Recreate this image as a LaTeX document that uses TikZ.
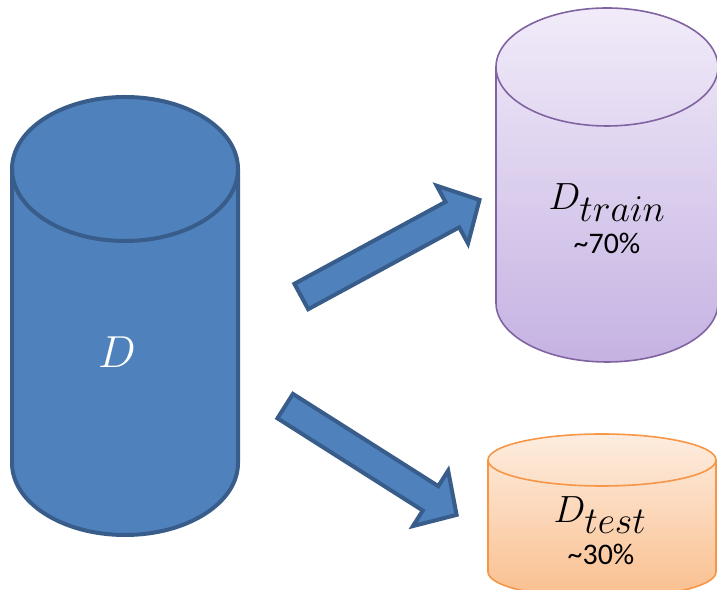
\RequirePackage{fix-cm}
\documentclass[tikz,border=0pt]{standalone}
\usepackage{fontspec}
\newfontfamily\calib{Carlito}
\usetikzlibrary{calc}

\definecolor{dblue}{HTML}{4F81BD}
\definecolor{dblueline}{HTML}{385D8A}
\definecolor{trline}{HTML}{8064A2}
\definecolor{trtop}{HTML}{F1EBF9}
\definecolor{trbot}{HTML}{C5B2E2}
\definecolor{teline}{HTML}{F79646}
\definecolor{tetop}{HTML}{FDEDE0}
\definecolor{tebot}{HTML}{FABF8E}

% cylinder: #1 fill options, #2 line options, #3 centre x, #4 top y, #5 bottom y, #6 x radius, #7 y radius
\newcommand\drawcyl[7]{%
  \path[#1] (#3-#6,#4) -- (#3-#6,#5)
     arc[start angle=180,end angle=360,x radius=#6,y radius=#7] -- (#3+#6,#4)
     arc[start angle=0,end angle=180,x radius=#6,y radius=#7] -- cycle;
  \draw[#2] (#3-#6,#4) -- (#3-#6,#5)
     arc[start angle=180,end angle=360,x radius=#6,y radius=#7] -- (#3+#6,#4);
  \draw[#2] (#3,#4) ellipse[x radius=#6,y radius=#7];}

% block arrow from tail coordinate #1 to tip coordinate #2
\newcommand\blockarrow[2]{%
  \draw[blockarrow] let \p1=(#1), \p2=(#2),
      \n1={atan2(\y2-\y1,\x2-\x1)},
      \n2={veclen(\x2-\x1,\y2-\y1)-31pt} in
    ($(#1)+(\n1+90:14.5pt)$)
    -- ($(#1)+(\n1:\n2)+(\n1+90:14.5pt)$)
    -- ($(#1)+(\n1:\n2)+(\n1+90:33pt)$)
    -- (#2)
    -- ($(#1)+(\n1:\n2)+(\n1-90:33pt)$)
    -- ($(#1)+(\n1:\n2)+(\n1-90:14.5pt)$)
    -- ($(#1)+(\n1-90:14.5pt)$) -- cycle;}

\tikzset{
  blockarrow/.style={fill=dblue, draw=dblueline, line width=4bp, line join=miter},
  mathlabel/.style={anchor=base, inner sep=0pt},
  pctlabel/.style={anchor=base, inner sep=0pt, font=\calib\fontsize{30}{30}\selectfont},
}

\begin{document}
\begin{tikzpicture}[x=1bp,y=1bp]
  \useasboundingbox (0,0) rectangle (717,590);
  \clip (0,0) rectangle (717,590);

  % full data set
  \drawcyl{fill=dblue}{draw=dblueline, line width=4bp}{125}{421}{127}{113}{72}
  \node[mathlabel, text=white] (Dall) at (117,222)
    {\fontsize{45}{45}\selectfont$D$};

  % training part
  \drawcyl{top color=trtop, bottom color=trbot}{draw=trline, line width=1.6bp}{607}{523}{287}{111}{59}
  \node[mathlabel] (Dtrain) at (607,380)
    {\fontsize{38}{38}\selectfont$D_{\textstyle train}$};
  \node[pctlabel] (ptrain) at (607,336) {\char`\~70\%};

  % test part
  \drawcyl{top color=tetop, bottom color=tebot}{draw=teline, line width=1.6bp}{602}{130}{18}{114}{26}
  \node[mathlabel] (Dtest) at (600,67)
    {\fontsize{38}{38}\selectfont$D_{\textstyle test}$};
  \node[pctlabel] (ptest) at (601,25) {\char`\~30\%};

  % splitting arrows
  \coordinate (upTail) at (301.3,293.5);
  \coordinate (upTip)  at (479.5,390.1);
  \coordinate (dnTail) at (285.2,183.9);
  \coordinate (dnTip)  at (456.6,75.1);
  \blockarrow{upTail}{upTip}
  \blockarrow{dnTail}{dnTip}
\end{tikzpicture}
\end{document}
